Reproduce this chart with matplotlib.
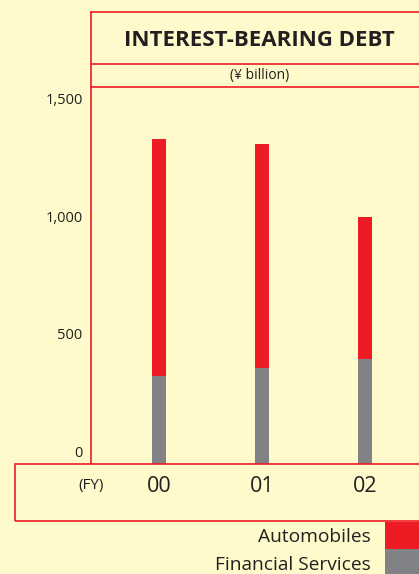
import numpy as np
import matplotlib.pyplot as plt
from matplotlib.lines import Line2D
from matplotlib.patches import Rectangle

years = ['00', '01', '02']
financial = [374, 408, 446]
automobiles = [1007, 951, 603]
yticks = [0, 500, 1000, 1500]

W, H = 419, 574
bg = '#fffacc'
red = '#ed1c24'
gray = '#808285'
txt = '#231f20'
plt.rcParams['font.family'] = ['Open Sans', 'DejaVu Sans']

fig = plt.figure(figsize=(W/100, H/100), dpi=100, facecolor=bg)

def fx(x):
    return x / W

def fy(y):
    return 1 - y / H

# plot area: left 91px, baseline 464px, top 87px
ax = fig.add_axes([fx(91), fy(464), fx(W - 91), (464 - 87) / H])
ax.set_facecolor(bg)
x = np.arange(len(years))
ax.bar(x, financial, width=0.136, color=gray)
ax.bar(x, automobiles, bottom=financial, width=0.136, color=red)
ax.set_xlim(-0.66, 2.524)
ax.set_ylim(0, 1601)
for s in ax.spines.values():
    s.set_visible(False)
ax.set_xticks([])
ax.set_yticks([])

# y labels drawn slightly above their values
for v in yticks:
    ax.annotate(f'{v:,}', xy=(0, v), xycoords=('axes fraction', 'data'),
                xytext=(-6, 2), textcoords='offset points', ha='right', va='bottom',
                fontsize=10.5, color=txt)

# x labels in bottom box
for xi, lab in zip(x, years):
    ax.annotate(lab, xy=(xi, 0), xycoords=('data', 'data'), xytext=(0, -16),
                textcoords='offset points', ha='center', va='center',
                fontsize=15.5, color=txt)
fig.text(fx(91), fy(485), '(FY)', ha='center', va='center', fontsize=11, color=txt)

# frame lines
lw = 1.2
for y in [12, 64, 87]:
    fig.add_artist(Line2D([fx(91), 1], [fy(y), fy(y)], color=red, lw=lw))
fig.add_artist(Line2D([fx(91), fx(91)], [fy(12), fy(464)], color=red, lw=lw))
fig.add_artist(Rectangle((fx(15), fy(521)), 1.0, (521 - 464) / H, fill=False,
                         edgecolor=red, lw=lw))

fig.text(fx(259), fy(41), 'INTEREST-BEARING DEBT', ha='center', va='center',
         fontsize=16, fontweight='bold', color=txt)
fig.text(fx(260), fy(76), '(¥ billion)', ha='center', va='center', fontsize=10, color=txt)

# legend
fig.add_artist(Rectangle((fx(385), fy(549)), fx(40), 27 / H, color=red, lw=0))
fig.add_artist(Rectangle((fx(385), fy(576)), fx(40), 27 / H, color=gray, lw=0))
fig.text(fx(371), fy(537), 'Automobiles', ha='right', va='center', fontsize=13.8, color=txt)
fig.text(fx(371), fy(565), 'Financial Services', ha='right', va='center', fontsize=13.8, color=txt)

fig.savefig('out.png', dpi=100, facecolor=bg)
